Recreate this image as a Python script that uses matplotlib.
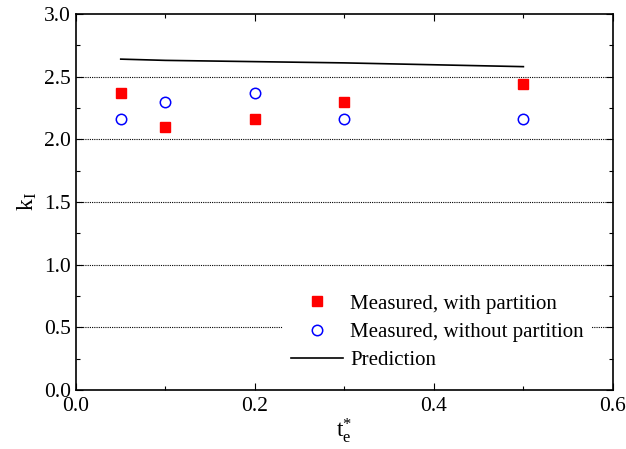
import numpy as np
import matplotlib.pyplot as plt
from matplotlib.ticker import MultipleLocator

plt.rcParams['font.family'] = ['Liberation Serif', 'DejaVu Serif']
plt.rcParams['mathtext.fontset'] = 'custom'
plt.rcParams['mathtext.rm'] = 'Liberation Serif'
plt.rcParams['mathtext.it'] = 'Liberation Serif'

t_e = [0.05, 0.1, 0.2, 0.3, 0.5]
k_con_particion = [2.37, 2.10, 2.16, 2.30, 2.44]
k_sin_particion = [2.16, 2.30, 2.37, 2.16, 2.16]
k_prediccion = [2.64, 2.63, 2.62, 2.61, 2.58]

fig = plt.figure(figsize=(6.26, 4.49), dpi=100)
ax = fig.add_axes([0.1214, 0.1314, 0.8576, 0.8374])

for yv in [0.5, 1.0, 1.5, 2.0, 2.5]:
    ax.axhline(yv, color='black', lw=0.8, ls=(0, (1, 1)), zorder=0)

ax.plot(t_e, k_con_particion, 's', color='red', ms=6.5, mec='red',
        label='Measured, with partition', zorder=3)
ax.plot(t_e, k_sin_particion, 'o', mfc='none', mec='blue', ms=7.5, mew=1.1,
        label='Measured, without partition', zorder=3)
ax.plot(t_e, k_prediccion, '-', color='black', lw=1.2, label='Prediction', zorder=3)

ax.set_xlim(0, 0.6)
ax.set_ylim(0, 3.0)
ax.xaxis.set_major_locator(MultipleLocator(0.2))
ax.xaxis.set_minor_locator(MultipleLocator(0.1))
ax.yaxis.set_major_locator(MultipleLocator(0.5))
ax.yaxis.set_minor_locator(MultipleLocator(0.25))
ax.xaxis.set_major_formatter(plt.FormatStrFormatter('%.1f'))
ax.yaxis.set_major_formatter(plt.FormatStrFormatter('%.1f'))
ax.tick_params(which='both', direction='in', top=True, right=True, labelsize=15.5)
ax.tick_params(which='major', length=5, width=0.8)
ax.tick_params(which='minor', length=3, width=0.8)
ax.tick_params(axis='x', pad=5)
for s in ax.spines.values():
    s.set_linewidth(1.2)

ax.set_xlabel(r'$\mathrm{t}^{*}_{\mathrm{e}}$', fontsize=17, labelpad=0)
ax.set_ylabel(r'$\mathrm{k}_{\mathrm{I}}$', fontsize=17, labelpad=4)

leg = ax.legend(loc='lower left', bbox_to_anchor=(0.385, 0.03), frameon=True,
                fontsize=15, handlelength=2.5, handletextpad=0.35,
                labelspacing=0.42, borderaxespad=0)
leg.get_frame().set_edgecolor('none')
leg.get_frame().set_facecolor('white')
leg.get_frame().set_alpha(1)

fig.savefig('out.png', dpi=100)
